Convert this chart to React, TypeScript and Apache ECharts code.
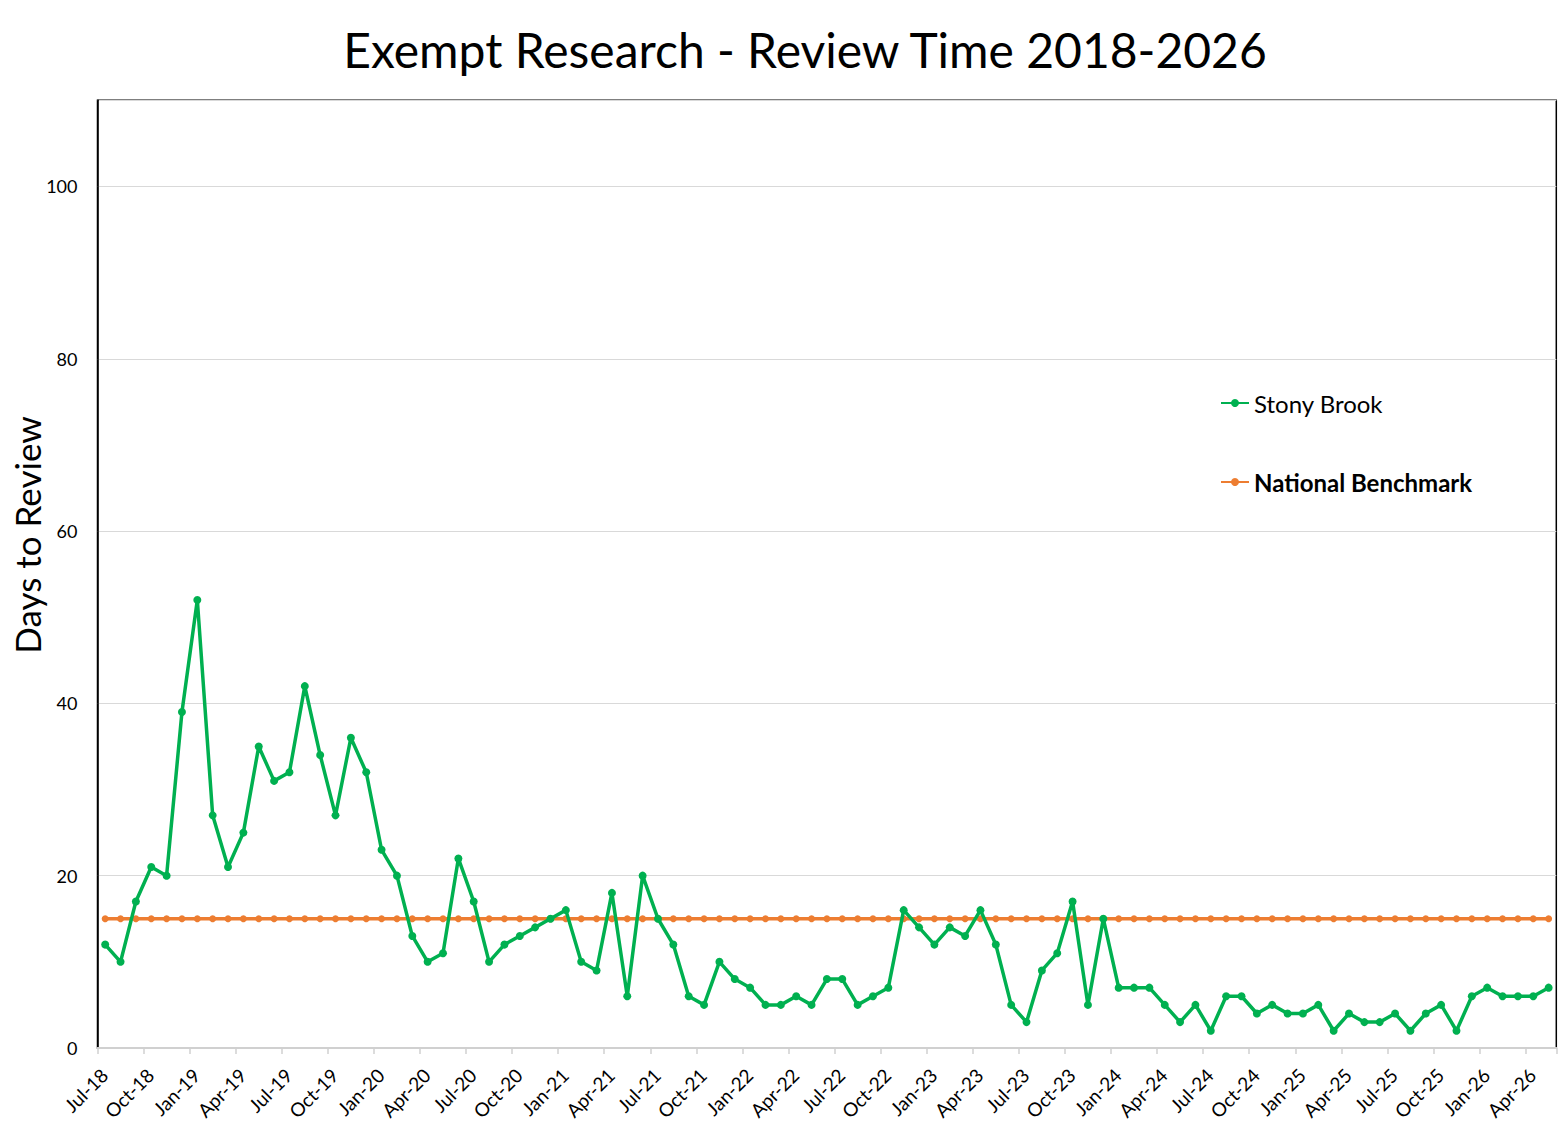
import React, { useEffect, useRef } from "react";
import * as echarts from "echarts";

const months = [
  "Jul-18","Aug-18","Sep-18","Oct-18","Nov-18","Dec-18",
  "Jan-19","Feb-19","Mar-19","Apr-19","May-19","Jun-19","Jul-19","Aug-19","Sep-19","Oct-19","Nov-19","Dec-19",
  "Jan-20","Feb-20","Mar-20","Apr-20","May-20","Jun-20","Jul-20","Aug-20","Sep-20","Oct-20","Nov-20","Dec-20",
  "Jan-21","Feb-21","Mar-21","Apr-21","May-21","Jun-21","Jul-21","Aug-21","Sep-21","Oct-21","Nov-21","Dec-21",
  "Jan-22","Feb-22","Mar-22","Apr-22","May-22","Jun-22","Jul-22","Aug-22","Sep-22","Oct-22","Nov-22","Dec-22",
  "Jan-23","Feb-23","Mar-23","Apr-23","May-23","Jun-23","Jul-23","Aug-23","Sep-23","Oct-23","Nov-23","Dec-23",
  "Jan-24","Feb-24","Mar-24","Apr-24","May-24","Jun-24","Jul-24","Aug-24","Sep-24","Oct-24","Nov-24","Dec-24",
  "Jan-25","Feb-25","Mar-25","Apr-25","May-25","Jun-25","Jul-25","Aug-25","Sep-25","Oct-25","Nov-25","Dec-25",
  "Jan-26","Feb-26","Mar-26","Apr-26","May-26",
];

const stonyBrook = [
  12, 10, 17, 21, 20, 39, 52, 27, 21, 25,
  35, 31, 32, 42, 34, 27, 36, 32, 23, 20,
  13, 10, 11, 22, 17, 10, 12, 13, 14, 15,
  16, 10, 9, 18, 6, 20, 15, 12, 6, 5,
  10, 8, 7, 5, 5, 6, 5, 8, 8, 5,
  6, 7, 16, 14, 12, 14, 13, 16, 12, 5,
  3, 9, 11, 17, 5, 15, 7, 7, 7, 5,
  3, 5, 2, 6, 6, 4, 5, 4, 4, 5,
  2, 4, 3, 3, 4, 2, 4, 5, 2, 6,
  7, 6, 6, 6, 7,
];

const nationalBenchmarkValue = 15;
const nationalBenchmark = months.map(() => nationalBenchmarkValue);

const yTicks = [0, 20, 40, 60, 80, 100];

const FONT = "Lato, 'Open Sans', sans-serif";

export default function App() {
  const ref = useRef<HTMLDivElement>(null);

  useEffect(() => {
    if (!ref.current) return;
    const chart = echarts.init(ref.current, undefined, { renderer: "svg" });
    const toPoints = (arr: number[]) => arr.map((v, i) => [i + 0.5, v]);

    chart.setOption({
      animation: false,
      backgroundColor: "#ffffff",
      textStyle: { fontFamily: FONT },
      graphic: [
        {
          type: "text",
          x: 805,
          y: 49,
          style: {
            text: "Exempt Research - Review Time 2018-2026",
            fontFamily: FONT,
            fontSize: 48,
            fill: "#000000",
            align: "center",
            verticalAlign: "middle",
          },
        },
        {
          type: "text",
          x: 27,
          y: 535,
          rotation: Math.PI / 2,
          style: {
            text: "Days to Review",
            fontFamily: FONT,
            fontSize: 35,
            fill: "#000000",
            align: "center",
            verticalAlign: "middle",
          },
        },
      ],
      legend: {
        orient: "vertical",
        left: 1220,
        top: 391,
        padding: 0,
        itemWidth: 28,
        itemHeight: 10,
        itemGap: 55,
        textStyle: { fontFamily: FONT, fontSize: 24, color: "#000000" },
        data: [
          { name: "Stony Brook" },
          { name: "National Benchmark", textStyle: { fontWeight: "bold" } },
        ],
      },
      grid: {
        left: 97.5,
        right: 9.7,
        top: 100.3,
        bottom: 75,
        show: true,
        borderColor: "#000000",
        borderWidth: 1.5,
        backgroundColor: "transparent",
      },
      xAxis: {
        type: "value",
        min: 0,
        max: months.length,
        interval: 3,
        splitLine: { show: false },
        axisLine: { show: true, lineStyle: { color: "#d0d0d0", width: 2 } },
        axisTick: { show: true, length: 6, lineStyle: { color: "#d0d0d0", width: 1.5 } },
        axisLabel: {
          rotate: 45,
          fontFamily: FONT,
          fontSize: 19,
          color: "#000000",
          margin: 17,
          verticalAlign: "top",
          formatter: (v: number) => (Number.isInteger(v) && months[v] !== undefined && v % 3 === 0 ? months[v] : ""),
        },
      },
      yAxis: {
        type: "value",
        min: 0,
        max: 110,
        interval: 20,
        axisLine: { show: true, lineStyle: { color: "#000000", width: 1.5 } },
        axisTick: { show: false },
        splitLine: { show: true, lineStyle: { color: "#d9d9d9", width: 1 } },
        axisLabel: {
          fontFamily: FONT,
          fontSize: 18,
          color: "#000000",
          margin: 20,
          formatter: (v: number) => (yTicks.includes(v) ? String(v) : ""),
        },
      },
      series: [
        {
          name: "National Benchmark",
          type: "line",
          data: toPoints(nationalBenchmark),
          symbol: "circle",
          symbolSize: 7,
          itemStyle: { color: "#ED7D31" },
          lineStyle: { color: "#ED7D31", width: 3.5 },
          z: 2,
        },
        {
          name: "Stony Brook",
          type: "line",
          data: toPoints(stonyBrook),
          symbol: "circle",
          symbolSize: 8,
          itemStyle: { color: "#00B050" },
          lineStyle: { color: "#00B050", width: 3.5 },
          z: 3,
        },
      ],
    });

    return () => chart.dispose();
  }, []);

  return (
    <div
      ref={ref}
      style={{ position: "fixed", left: 0, top: 0, width: 1566, height: 1123 }}
    />
  );
}
